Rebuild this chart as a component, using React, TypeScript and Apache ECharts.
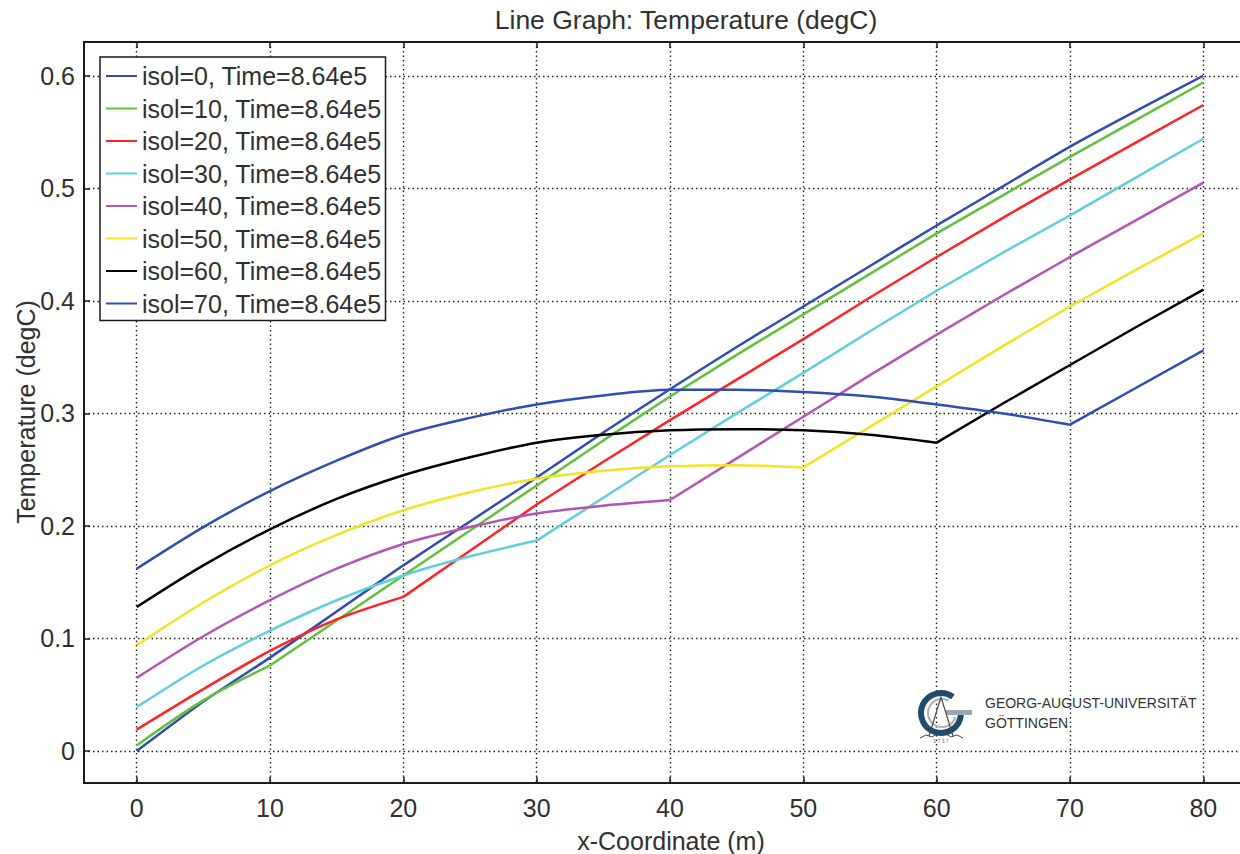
import React, { useEffect, useRef } from "react";
import * as echarts from "echarts";

const xs = [0, 5, 10, 15, 20, 25, 30, 35, 40, 45, 50, 55, 60, 65, 70, 75, 80];
const isol0 = [0.0, 0.044, 0.083, 0.124, 0.165, 0.204, 0.243, 0.283, 0.3215, 0.359, 0.395, 0.431, 0.467, 0.502, 0.537, 0.569, 0.6];
const isol10 = [0.005, 0.045, 0.076, 0.116, 0.156, 0.196, 0.236, 0.276, 0.315, 0.352, 0.388, 0.424, 0.46, 0.494, 0.528, 0.561, 0.594];
const isol20 = [0.019, 0.055, 0.089, 0.117, 0.137, 0.178, 0.219, 0.257, 0.294, 0.33, 0.366, 0.403, 0.439, 0.474, 0.508, 0.541, 0.574];
const isol30 = [0.039, 0.076, 0.107, 0.134, 0.156, 0.173, 0.187, 0.225, 0.263, 0.3, 0.336, 0.373, 0.409, 0.443, 0.476, 0.51, 0.544];
const isol40 = [0.065, 0.102, 0.134, 0.162, 0.184, 0.199, 0.211, 0.218, 0.223, 0.26, 0.297, 0.334, 0.37, 0.405, 0.439, 0.472, 0.505];
const isol50 = [0.094, 0.132, 0.165, 0.192, 0.214, 0.23, 0.242, 0.249, 0.253, 0.254, 0.252, 0.288, 0.324, 0.36, 0.395, 0.428, 0.46];
const isol60 = [0.128, 0.165, 0.197, 0.224, 0.245, 0.261, 0.274, 0.281, 0.285, 0.286, 0.285, 0.281, 0.274, 0.309, 0.343, 0.377, 0.41];
const isol70 = [0.162, 0.199, 0.231, 0.258, 0.281, 0.296, 0.308, 0.316, 0.321, 0.321, 0.319, 0.315, 0.308, 0.3, 0.29, 0.323, 0.356];

const isolPositions = [0, 10, 20, 30, 40, 50, 60, 70];
const seriesNames = [
  "isol=0, Time=8.64e5",
  "isol=10, Time=8.64e5",
  "isol=20, Time=8.64e5",
  "isol=30, Time=8.64e5",
  "isol=40, Time=8.64e5",
  "isol=50, Time=8.64e5",
  "isol=60, Time=8.64e5",
  "isol=70, Time=8.64e5",
];
const seriesValues = [isol0, isol10, isol20, isol30, isol40, isol50, isol60, isol70];
const seriesColors = ["#2f4db3", "#62c03c", "#ff2424", "#5fcfdc", "#b455b4", "#f2e324", "#000000", "#2f4db3"];

const xTicks = [0, 10, 20, 30, 40, 50, 60, 70, 80];
const yTicks = [0, 0.1, 0.2, 0.3, 0.4, 0.5, 0.6];

const FONT = "'Liberation Sans', Arial, Helvetica, sans-serif";
const TXT = "#303030";

export default function App() {
  const ref = useRef<HTMLDivElement>(null);
  useEffect(() => {
    if (!ref.current) return;
    const chart = echarts.init(ref.current, undefined, { renderer: "svg" });
    const axisLine = { show: true, onZero: false, lineStyle: { color: "#1a1a1a", width: 2 } };
    const gridLine = { show: true, lineStyle: { color: "#222", width: 1.4, type: [1.5, 3] } };
    const tick = (vals: number[]) => ({
      show: true,
      inside: true,
      length: 6,
      customValues: vals,
      lineStyle: { color: "#1a1a1a", width: 1.5 },
    });

    const series: any[] = [];
    seriesNames.forEach((name, k) => {
      const pts = xs.map((x, i) => [x, seriesValues[k][i]]);
      const iso = isolPositions[k];
      const curved = pts.filter((p) => p[0] <= iso);
      const straight = pts.filter((p) => p[0] >= iso);
      if (curved.length > 1) {
        series.push({
          name,
          type: "line",
          symbol: "none",
          showSymbol: false,
          smooth: 0.3,
          color: seriesColors[k],
          lineStyle: { color: seriesColors[k], width: 2.5 },
          data: curved,
        });
      }
      series.push({
        name,
        type: "line",
        symbol: "none",
        showSymbol: false,
        smooth: k === 0 ? 0.2 : false,
        color: seriesColors[k],
        lineStyle: { color: seriesColors[k], width: 2.5 },
        data: straight,
      });
    });

    const option: any = {
      animation: false,
      backgroundColor: "#ffffff",
      grid: { left: 84, right: 0, top: 42, bottom: 71 },
      xAxis: [
        {
          type: "value",
          min: -3.95,
          max: 82.75,
          position: "bottom",
          axisLine,
          axisTick: tick(xTicks),
          axisLabel: { customValues: xTicks, margin: 12, fontSize: 25, color: TXT, fontFamily: FONT },
          splitLine: gridLine,
        },
        {
          type: "value",
          min: -3.95,
          max: 82.75,
          position: "top",
          axisLine,
          axisTick: tick(xTicks),
          axisLabel: { show: false },
          splitLine: { show: false },
        },
      ],
      yAxis: {
        type: "value",
        min: -0.0284,
        max: 0.63,
        axisLine,
        axisTick: tick(yTicks),
        axisLabel: {
          customValues: yTicks,
          margin: 9,
          fontSize: 25,
          color: TXT,
          fontFamily: FONT,
          formatter: (v: number) => (v === 0 ? "0" : String(Math.round(v * 10) / 10)),
        },
        splitLine: gridLine,
      },
      legend: {
        data: seriesNames,
        orient: "vertical",
        left: 100,
        top: 57,
        icon: "rect",
        itemWidth: 31,
        itemHeight: 2,
        itemGap: 4.5,
        padding: [5, 4, 3, 6],
        borderColor: "#1a1a1a",
        borderWidth: 1.5,
        backgroundColor: "#ffffff",
        selectedMode: false,
        textStyle: { fontSize: 25, color: TXT, fontFamily: FONT, lineHeight: 28 },
      },
      series,
      graphic: [
        {
          type: "text",
          x: 686,
          y: 20,
          style: { text: "Line Graph: Temperature (degC)", font: `26.5px ${FONT}`, fill: TXT, align: "center", verticalAlign: "middle" },
        },
        {
          type: "text",
          x: 671,
          y: 841,
          style: { text: "x-Coordinate (m)", font: `25px ${FONT}`, fill: TXT, align: "center", verticalAlign: "middle" },
        },
        {
          type: "text",
          x: 26,
          y: 412,
          rotation: Math.PI / 2,
          style: { text: "Temperature (degC)", font: `25px ${FONT}`, fill: TXT, align: "center", verticalAlign: "middle" },
        },
        // university logo
        {
          type: "arc",
          shape: { cx: 941, cy: 713, r: 20, startAngle: 0.1, endAngle: 5.35, clockwise: true },
          style: { stroke: "#1f4b6e", lineWidth: 6, fill: "none" },
          z: 10,
        },
        {
          type: "arc",
          shape: { cx: 942, cy: 713, r: 14, startAngle: 0.3, endAngle: 5.2, clockwise: true },
          style: { stroke: "#a7b2bc", lineWidth: 2, fill: "none" },
          z: 10,
        },
        {
          type: "rect",
          shape: { x: 946, y: 710, width: 26, height: 5 },
          style: { fill: "#9aa6b1" },
          z: 10,
        },
        {
          type: "polyline",
          shape: { points: [[929, 736], [941, 697], [953, 736]] },
          style: { stroke: "#4a4a4a", lineWidth: 1.2, fill: "none" },
          z: 11,
        },
        {
          type: "polyline",
          shape: { points: [[920, 738], [926, 735], [932, 737], [937, 734]] },
          style: { stroke: "#4a4a4a", lineWidth: 1, fill: "none" },
          z: 11,
        },
        {
          type: "polyline",
          shape: { points: [[946, 734], [951, 737], [957, 735], [963, 738]] },
          style: { stroke: "#4a4a4a", lineWidth: 1, fill: "none" },
          z: 11,
        },
        {
          type: "text",
          x: 941,
          y: 741,
          style: { text: "1 7 3 7", font: `5px ${FONT}`, fill: "#666", align: "center", verticalAlign: "middle" },
          z: 11,
        },
        {
          type: "text",
          x: 985,
          y: 703,
          style: { text: "GEORG-AUGUST-UNIVERSITÄT", font: `14px ${FONT}`, fill: "#333", align: "left", verticalAlign: "middle" },
          z: 11,
        },
        {
          type: "text",
          x: 985,
          y: 723,
          style: { text: "GÖTTINGEN", font: `14px ${FONT}`, fill: "#333", align: "left", verticalAlign: "middle" },
          z: 11,
        },
      ],
    };
    chart.setOption(option);
    return () => chart.dispose();
  }, []);
  return <div ref={ref} style={{ position: "fixed", left: 0, top: 0, width: 1240, height: 854 }} />;
}
